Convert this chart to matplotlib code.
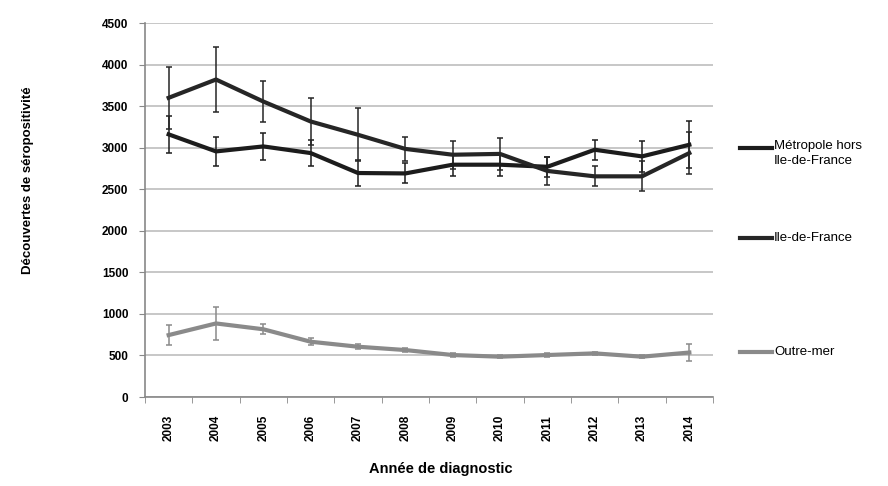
import numpy as np
import matplotlib
matplotlib.use("Agg")
import matplotlib.pyplot as plt
from matplotlib.lines import Line2D

plt.rcParams['font.family'] = ['Liberation Sans', 'DejaVu Sans']

# data
years = ['2003', '2004', '2005', '2006', '2007', '2008',
         '2009', '2010', '2011', '2012', '2013', '2014']

metro = [3160, 2955, 3015, 2935, 2695, 2690, 2795, 2795, 2770, 2975, 2895, 3035]
metro_err = [220, 170, 160, 160, 160, 120, 130, 130, 120, 120, 190, 280]

idf = [3600, 3820, 3555, 3315, 3155, 2985, 2915, 2925, 2720, 2655, 2655, 2935]
idf_err = [370, 390, 250, 280, 320, 140, 170, 190, 170, 120, 180, 250]

outremer = [745, 885, 815, 665, 605, 565, 505, 485, 505, 525, 485, 535]
outremer_err = [120, 195, 60, 40, 30, 25, 20, 20, 20, 20, 20, 100]

labels = ['Métropole hors\nIle-de-France', 'Ile-de-France', 'Outre-mer']
colors = ['#1c1c1c', '#262626', '#8a8a8a']

fig = plt.figure(figsize=(8.88, 4.86), dpi=100)
ax = fig.add_axes([145/888, 1-397/486, 568/888, 374/486])

x = np.arange(len(years))
series = [(metro, metro_err), (idf, idf_err), (outremer, outremer_err)]
for (vals, errs), c in zip(series, colors):
    ax.errorbar(x, vals, yerr=errs, color=c, lw=3.0, elinewidth=1.1,
                capsize=2.5, capthick=1.1, zorder=3)

ax.set_xlim(-0.5, len(years) - 0.5)
ax.set_ylim(0, 4500)
ax.set_yticks(np.arange(0, 4501, 500))
ax.set_xticks(x)
ax.set_xticklabels(years, rotation=90, fontsize=8.5, fontweight='bold')
ax.set_xticks(np.arange(-0.5, len(years), 1), minor=True)
ax.tick_params(axis='x', which='major', length=0, pad=13)
ax.tick_params(axis='x', which='minor', length=4, color='#888888', direction='out')
ax.tick_params(axis='y', labelsize=8.5, length=4, color='#888888', pad=8)
for t in ax.get_yticklabels():
    t.set_fontweight('bold')

ax.grid(axis='y', color='#bdbdbd', lw=1.2)
ax.set_axisbelow(True)
for s in ['top', 'right']:
    ax.spines[s].set_visible(False)
for s in ['left', 'bottom']:
    ax.spines[s].set_color('#888888')
    ax.spines[s].set_linewidth(1.2)

ax.set_ylabel('Découvertes de séropositivité', fontsize=9.5, fontweight='bold')
ax.yaxis.set_label_coords(-0.196, 0.58)
ax.set_xlabel('Année de diagnostic', fontsize=10.5, fontweight='bold')
ax.xaxis.set_label_coords(0.52, -0.175)

# legend entries placed as in the reference
leg_y = [148, 238, 352]
for lab, c, yy in zip(labels, colors, leg_y):
    fy = 1 - yy/486
    fig.add_artist(Line2D([740/888, 772/888], [fy, fy], color=c, lw=3.0))
    if '\n' in lab:
        fig.text(774/888, fy + 8/486, lab, fontsize=9.5, va='top', ha='left', linespacing=1.3)
    else:
        fig.text(774/888, fy, lab, fontsize=9.5, va='center', ha='left')

fig.savefig('out.png', dpi=100)
